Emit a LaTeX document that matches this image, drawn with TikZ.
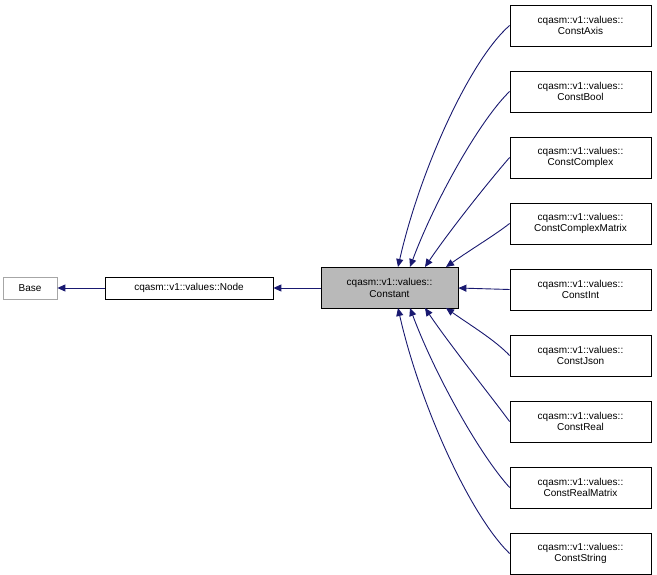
\documentclass[tikz,border=0pt]{standalone}
\usepackage{fontspec}
\setmainfont{Liberation Sans}
\usetikzlibrary{arrows.meta}
\definecolor{edge}{HTML}{191970}
\begin{document}
\begin{tikzpicture}[x=1pt,y=-1pt,
  box/.style={draw=black,line width=0.8pt,fill=white,inner sep=0pt,align=center,font=\fontsize{10}{11.5}\selectfont},
  arr/.style={draw=edge,line width=0.9pt,{Triangle[length=8pt,width=7pt,fill=edge]}-}]
\useasboundingbox (0,0) rectangle (657,575);
\node[box,draw=gray!70,minimum width=54pt,minimum height=22pt] (base) at (30,288) {Base};
\node[box,minimum width=168pt,minimum height=22pt] (node) at (189,288) {cqasm::v1::values::Node};
\node[box,fill=gray!55,minimum width=137pt,minimum height=41pt] (const) at (389.5,288) {cqasm::v1::values::\\Constant};
\foreach \n/\t [count=\i from 0] in {axis/ConstAxis,bool/ConstBool,cplx/ConstComplex,cmat/ConstComplexMatrix,int/ConstInt,json/ConstJson,real/ConstReal,rmat/ConstRealMatrix,str/ConstString}{
  \node[box,minimum width=141pt,minimum height=41pt] (\n) at (580.5,25.5+66*\i) {cqasm::v1::values::\\\t};
}
\draw[arr] (base.east) -- (node.west);
\draw[arr] (node.east) -- (const.west);
\draw[arr] (const.east) -- (int.west);
\coordinate (ta) at (398,267); \coordinate (tb) at (410,267);
\coordinate (tc) at (425,267); \coordinate (td) at (446,267);
\coordinate (bd) at (446,308); \coordinate (bc) at (425,308);
\coordinate (bb) at (410,308); \coordinate (ba) at (398,308);
\draw[arr] (ta) .. controls (420,170) and (470,60) .. (axis.west);
\draw[arr] (tb) .. controls (435,200) and (480,120) .. (bool.west);
\draw[arr] (tc) .. controls (450,230) and (490,180) .. (cplx.west);
\draw[arr] (td) .. controls (470,250) and (495,235) .. (cmat.west);
\draw[arr] (bd) .. controls (470,325) and (495,340) .. (json.west);
\draw[arr] (bc) .. controls (450,345) and (490,395) .. (real.west);
\draw[arr] (bb) .. controls (435,375) and (480,455) .. (rmat.west);
\draw[arr] (ba) .. controls (420,405) and (470,515) .. (str.west);
\end{tikzpicture}
\end{document}
